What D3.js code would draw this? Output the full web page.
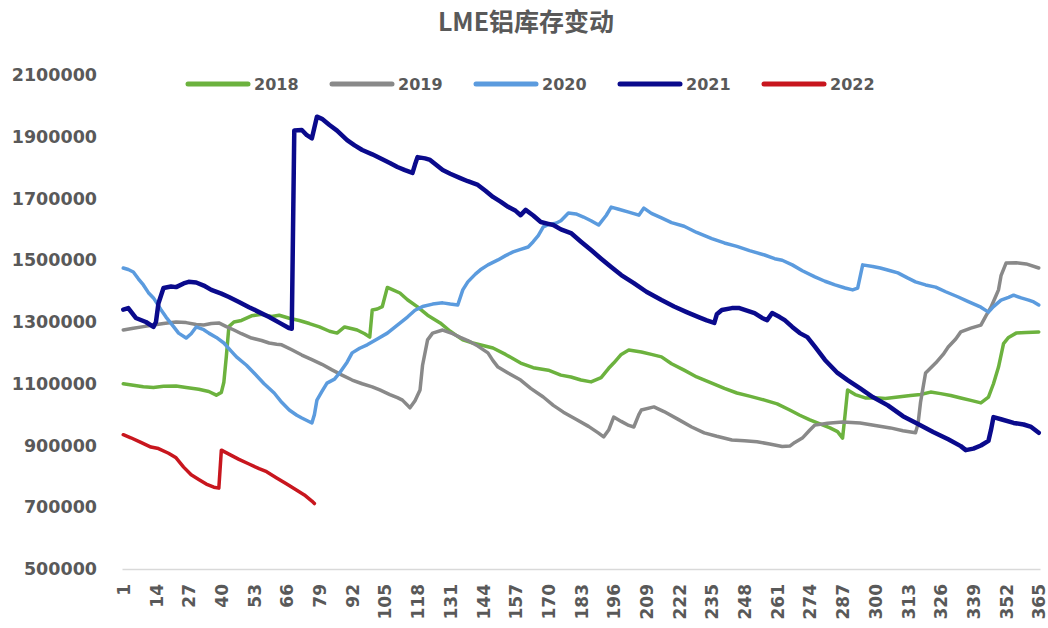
<!DOCTYPE html>
<html>
<head>
<meta charset="utf-8">
<script src="https://cdn.jsdelivr.net/npm/d3@7/dist/d3.min.js"></script>
<style>
body{margin:0;background:#fff;}
svg{display:block;font-family:"DejaVu Sans",sans-serif;}
</style>
</head>
<body>
<svg id="chart" width="1048" height="628"></svg>
<script>
if(!d3){
    throw new Error("d3 failed to load");
}

// [day, stock in tonnes]
const s2018 = [[1,1100000],[5,1095000],[9,1090000],[13,1088000],[17,1092000],[22,1093000],[26,1088000],[31,1082000],[35,1075000],[38,1063000],[40,1072000],[41,1105000],[42,1190000],[43,1285000],[45,1300000],[48,1305000],[52,1320000],[56,1325000],[60,1318000],[63,1322000],[67,1312000],[71,1305000],[75,1295000],[79,1284000],[83,1270000],[86,1264000],[89,1284000],[92,1278000],[94,1274000],[97,1262000],[99,1251000],[100,1339000],[102,1342000],[104,1350000],[106,1412000],[108,1405000],[111,1394000],[114,1372000],[118,1349000],[122,1322000],[127,1297000],[131,1270000],[136,1242000],[140,1232000],[144,1224000],[148,1216000],[153,1195000],[159,1167000],[164,1152000],[170,1144000],[175,1128000],[179,1122000],[183,1112000],[187,1106000],[191,1120000],[194,1150000],[196,1167000],[199,1195000],[202,1209000],[207,1203000],[211,1195000],[215,1187000],[219,1165000],[224,1144000],[229,1122000],[235,1102000],[240,1085000],[245,1070000],[250,1060000],[256,1047000],[261,1035000],[266,1015000],[270,998000],[274,983000],[278,970000],[282,957000],[285,945000],[287,924000],[288,1000000],[289,1080000],[292,1065000],[296,1054000],[300,1055000],[304,1052000],[309,1057000],[314,1062000],[318,1065000],[322,1073000],[326,1068000],[330,1062000],[334,1054000],[338,1046000],[342,1038000],[345,1057000],[347,1100000],[349,1154000],[351,1230000],[353,1250000],[356,1264000],[360,1266000],[365,1268000]];

const s2019 = [[1,1274000],[5,1280000],[9,1285000],[13,1290000],[17,1295000],[22,1300000],[26,1298000],[30,1292000],[33,1290000],[36,1295000],[39,1297000],[42,1285000],[45,1274000],[48,1262000],[52,1248000],[56,1240000],[59,1232000],[62,1228000],[64,1226000],[68,1210000],[72,1193000],[76,1178000],[80,1163000],[84,1145000],[88,1128000],[92,1112000],[96,1100000],[100,1090000],[103,1080000],[107,1065000],[110,1055000],[112,1047000],[115,1022000],[117,1045000],[119,1080000],[120,1160000],[122,1242000],[124,1264000],[128,1274000],[132,1262000],[135,1250000],[138,1240000],[142,1222000],[146,1200000],[148,1175000],[150,1154000],[154,1135000],[159,1112000],[163,1085000],[168,1057000],[172,1030000],[176,1008000],[181,985000],[186,962000],[190,940000],[192,928000],[194,950000],[196,992000],[199,978000],[202,965000],[204,960000],[206,1000000],[207,1015000],[212,1025000],[216,1010000],[222,983000],[227,960000],[232,941000],[237,930000],[243,918000],[248,915000],[253,912000],[258,905000],[263,897000],[266,898000],[268,910000],[271,924000],[274,950000],[276,966000],[281,972000],[287,976000],[294,973000],[300,965000],[306,957000],[311,948000],[316,941000],[317,970000],[318,1040000],[320,1135000],[324,1167000],[327,1195000],[329,1219000],[332,1245000],[334,1268000],[338,1280000],[342,1290000],[344,1320000],[346,1348000],[348,1385000],[349,1404000],[350,1450000],[352,1491000],[356,1492000],[360,1488000],[365,1475000]];

const s2020 = [[1,1475000],[3,1470000],[5,1462000],[7,1440000],[9,1420000],[11,1395000],[13,1378000],[16,1340000],[18,1316000],[21,1285000],[23,1264000],[26,1248000],[28,1262000],[30,1284000],[33,1275000],[35,1264000],[38,1250000],[41,1232000],[44,1205000],[46,1187000],[50,1160000],[53,1135000],[57,1100000],[61,1070000],[64,1040000],[67,1015000],[70,998000],[72,989000],[76,973000],[77,1000000],[78,1047000],[80,1075000],[82,1102000],[85,1115000],[87,1135000],[90,1170000],[92,1200000],[95,1215000],[98,1226000],[102,1245000],[106,1264000],[110,1290000],[114,1316000],[117,1338000],[120,1350000],[124,1358000],[128,1362000],[131,1358000],[134,1355000],[136,1404000],[138,1430000],[141,1455000],[143,1469000],[146,1485000],[150,1501000],[153,1515000],[156,1527000],[159,1535000],[162,1543000],[164,1560000],[166,1580000],[168,1608000],[170,1615000],[173,1620000],[175,1628000],[178,1653000],[181,1650000],[184,1640000],[187,1628000],[190,1614000],[193,1645000],[195,1672000],[198,1665000],[202,1656000],[206,1646000],[208,1669000],[211,1652000],[215,1637000],[219,1622000],[224,1610000],[229,1590000],[235,1570000],[240,1556000],[245,1545000],[250,1531000],[256,1517000],[260,1505000],[263,1500000],[267,1485000],[271,1466000],[276,1446000],[280,1432000],[284,1420000],[288,1410000],[291,1404000],[293,1410000],[295,1485000],[299,1480000],[302,1475000],[306,1466000],[309,1459000],[313,1442000],[316,1430000],[320,1420000],[324,1413000],[328,1398000],[333,1381000],[337,1366000],[342,1348000],[345,1332000],[347,1350000],[350,1371000],[353,1380000],[355,1387000],[358,1378000],[361,1371000],[363,1365000],[365,1355000]];

const s2021 = [[1,1340000],[3,1345000],[6,1313000],[10,1300000],[13,1284000],[14,1300000],[15,1361000],[17,1410000],[20,1415000],[22,1413000],[25,1425000],[27,1430000],[30,1428000],[33,1418000],[36,1404000],[40,1392000],[43,1381000],[47,1365000],[51,1348000],[55,1332000],[59,1316000],[63,1298000],[67,1280000],[68,1278000],[69,1920000],[72,1922000],[74,1905000],[76,1895000],[78,1965000],[80,1958000],[83,1938000],[86,1920000],[90,1889000],[93,1872000],[96,1857000],[100,1843000],[103,1831000],[107,1815000],[110,1802000],[113,1792000],[116,1783000],[117,1810000],[118,1834000],[121,1830000],[123,1825000],[126,1805000],[128,1792000],[131,1780000],[135,1766000],[138,1756000],[142,1744000],[145,1725000],[148,1705000],[151,1690000],[154,1673000],[157,1660000],[159,1646000],[161,1663000],[164,1645000],[167,1624000],[170,1618000],[172,1614000],[175,1600000],[179,1588000],[183,1560000],[187,1533000],[191,1505000],[195,1478000],[199,1452000],[204,1426000],[209,1398000],[215,1371000],[220,1350000],[225,1332000],[230,1315000],[233,1305000],[236,1297000],[237,1325000],[239,1339000],[243,1345000],[246,1345000],[249,1337000],[252,1329000],[255,1313000],[257,1306000],[259,1329000],[262,1316000],[264,1306000],[267,1284000],[270,1264000],[273,1251000],[276,1220000],[280,1177000],[285,1135000],[289,1112000],[294,1085000],[299,1057000],[305,1030000],[311,995000],[317,970000],[323,944000],[329,920000],[334,898000],[336,885000],[339,890000],[342,900000],[345,915000],[346,950000],[347,992000],[350,985000],[355,973000],[359,968000],[362,960000],[365,941000]];

const s2022 = [[1,935000],[4,925000],[8,910000],[12,895000],[15,890000],[19,875000],[22,860000],[25,830000],[28,805000],[31,790000],[34,775000],[37,765000],[39,762000],[40,885000],[43,872000],[47,855000],[51,840000],[55,825000],[58,815000],[62,795000],[66,775000],[70,755000],[73,740000],[76,720000],[77,712000]];

const years = ["2018", "2019", "2020", "2021", "2022"];
const seriesList = [s2018, s2019, s2020, s2021, s2022];
const colours = ["#6CB23E", "#898989", "#5B9BDE", "#0A0A8C", "#C8161E"];
const widths = [3.5, 3.5, 3.5, 4.5, 3.5];

const xTicks = [1,14,27,40,53,66,79,92,105,118,131,144,157,170,183,196,209,222,235,248,261,274,287,300,313,326,339,352,365];
const yTicks = [500000,700000,900000,1100000,1300000,1500000,1700000,1900000,2100000];

const svg = d3.select("#chart");
const textCol = "#595959";

const x = d3.scaleLinear().domain([0.5, 365.5]).range([122, 1040]);
const y = d3.scaleLinear().domain([500000, 2100000]).range([569, 75]);

// title
svg.append("text")
    .attr("x", 526).attr("y", 31)
    .attr("text-anchor", "middle")
    .attr("font-family", "'Noto Sans CJK SC', sans-serif")
    .attr("font-weight", "bold")
    .attr("font-size", 25)
    .attr("fill", textCol)
    .text("LME铝库存变动");

// y axis, labels only
const yAxis = svg.append("g")
    .attr("transform", "translate(122,0)")
    .call(d3.axisLeft(y).tickValues(yTicks).tickSize(0).tickPadding(25).tickFormat(d3.format("d")));
yAxis.select(".domain").remove();
yAxis.selectAll("text")
    .attr("font-family", "'DejaVu Sans', sans-serif")
    .attr("font-weight", "bold")
    .attr("font-size", 17.5)
    .attr("fill", textCol);

// x axis
const xAxis = svg.append("g")
    .attr("transform", "translate(0,569)")
    .call(d3.axisBottom(x).tickValues(xTicks).tickSize(0).tickSizeOuter(0));
xAxis.select(".domain").attr("stroke", "#D9D9D9").attr("stroke-width", 1.5);
xAxis.selectAll("text")
    .attr("font-family", "'DejaVu Sans', sans-serif")
    .attr("font-weight", "bold")
    .attr("font-size", 17)
    .attr("fill", textCol)
    .attr("text-anchor", "end")
    .attr("transform", "rotate(-90)")
    .attr("x", -15)
    .attr("y", 0)
    .attr("dy", "0.36em");

// lines
const line = d3.line()
    .x(d => x(d[0]))
    .y(d => y(d[1]));

seriesList.forEach((s, i) => {
    svg.append("path")
        .datum(s)
        .attr("fill", "none")
        .attr("stroke", colours[i])
        .attr("stroke-width", widths[i])
        .attr("stroke-linejoin", "round")
        .attr("stroke-linecap", "round")
        .attr("d", line);
});

// legend
const legend = svg.append("g").attr("transform", "translate(188,84)");
years.forEach((yr, i) => {
    const g = legend.append("g").attr("transform", `translate(${i * 144},0)`);
    g.append("line")
        .attr("x1", 0).attr("x2", 60)
        .attr("stroke", colours[i])
        .attr("stroke-width", 5)
        .attr("stroke-linecap", "round");
    g.append("text")
        .attr("x", 66).attr("dy", "0.36em")
        .attr("font-weight", "bold")
        .attr("font-size", 16)
        .attr("fill", textCol)
        .text(yr);
});
</script>
</body>
</html>
